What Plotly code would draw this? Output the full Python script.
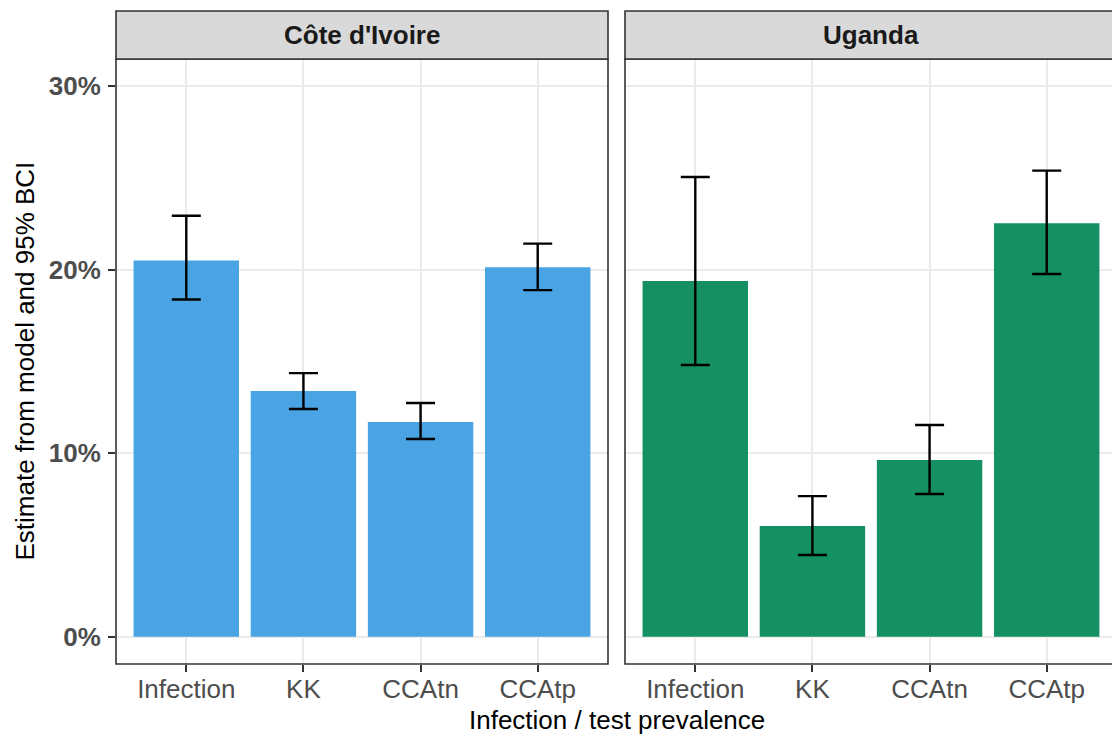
import plotly.graph_objects as go

categories = ["Infection", "KK", "CCAtn", "CCAtp"]
panels = ["Côte d'Ivoire", "Uganda"]

ci_est = [20.5, 13.38, 11.7, 20.12]
ci_low = [18.37, 12.4, 10.77, 18.88]
ci_high = [22.93, 14.36, 12.73, 21.41]

ug_est = [19.37, 6.03, 9.62, 22.52]
ug_low = [14.8, 4.45, 7.77, 19.76]
ug_high = [25.04, 7.66, 11.53, 25.39]

y_ticks = [0, 10, 20, 30]
y_tick_labels = ["0%", "10%", "20%", "30%"]

colors = ["#4AA4E3", "#159062"]

W, H = 1112, 734
FONT = "Liberation Sans, Arial, Helvetica, sans-serif"

def px_x(p):
    return p / W

def px_y(p):
    return 1 - p / H

left_x0, left_x1 = 116, 608
right_x0, right_x1 = 625, 1117
panel_top, panel_bot = 59, 664
strip_top = 11

fig = go.Figure()

for i, (est, lo, hi) in enumerate([(ci_est, ci_low, ci_high), (ug_est, ug_low, ug_high)]):
    fig.add_trace(go.Bar(
        x=categories, y=est,
        xaxis="x" if i == 0 else "x2",
        yaxis="y" if i == 0 else "y2",
        marker=dict(color=colors[i], line=dict(width=0)),
        width=0.9,
        error_y=dict(type="data", symmetric=False,
                     array=[h - e for h, e in zip(hi, est)],
                     arrayminus=[e - l for e, l in zip(est, lo)],
                     color="black", thickness=2.4, width=14.5),
        showlegend=False,
        hoverinfo="skip",
    ))

unit = (left_x1 - left_x0) / 4.2
right_max = -0.6 + (W - right_x0) / unit

yr = [-1.487, 31.47]
common_x = dict(type="category", showgrid=True, gridcolor="#EBEBEB", gridwidth=2,
                ticks="outside", ticklen=7, tickwidth=2, tickcolor="#333333",
                tickfont=dict(family=FONT, size=26, color="#4D4D4D"),
                ticklabelstandoff=-5,
                showline=False, zeroline=False)
fig.update_layout(
    width=W, height=H,
    margin=dict(l=0, r=0, t=0, b=0),
    paper_bgcolor="white", plot_bgcolor="white",
    bargap=0.1,
    xaxis=dict(common_x, domain=[px_x(left_x0), px_x(left_x1)], range=[-0.6, 3.6], anchor="y"),
    xaxis2=dict(common_x, domain=[px_x(right_x0), 1.0], range=[-0.6, right_max], anchor="y2"),
    yaxis=dict(domain=[px_y(panel_bot), px_y(panel_top)], range=yr,
               tickvals=y_ticks, ticktext=y_tick_labels,
               showgrid=True, gridcolor="#EBEBEB", gridwidth=2,
               ticks="outside", ticklen=7, tickwidth=2, tickcolor="#333333",
               tickfont=dict(family=FONT, size=26, color="#4D4D4D", weight="bold"),
               ticklabelstandoff=2,
               zeroline=False, showline=False, anchor="x"),
    yaxis2=dict(domain=[px_y(panel_bot), px_y(panel_top)], range=yr,
                tickvals=y_ticks, showticklabels=False,
                showgrid=True, gridcolor="#EBEBEB", gridwidth=2,
                ticks="", zeroline=False, showline=False, anchor="x2"),
)

border = dict(color="#333333", width=1.6)
shapes = []
shapes.append(dict(type="rect", xref="paper", yref="paper",
                   x0=px_x(left_x0), x1=px_x(left_x1), y0=px_y(panel_bot), y1=px_y(panel_top),
                   line=border, fillcolor="rgba(0,0,0,0)", layer="above"))
shapes.append(dict(type="rect", xref="paper", yref="paper",
                   x0=px_x(right_x0), x1=px_x(right_x1), y0=px_y(panel_bot), y1=px_y(panel_top),
                   line=border, fillcolor="rgba(0,0,0,0)", layer="above"))
for x0, x1 in [(left_x0, left_x1), (right_x0, right_x1)]:
    shapes.append(dict(type="rect", xref="paper", yref="paper",
                       x0=px_x(x0), x1=px_x(x1), y0=px_y(panel_top), y1=px_y(strip_top),
                       line=border, fillcolor="#D9D9D9", layer="above"))
fig.update_layout(shapes=shapes)

annotations = []
for name, (x0, x1) in zip(panels, [(left_x0, left_x1), (right_x0, right_x1)]):
    annotations.append(dict(text=name, xref="paper", yref="paper",
                            x=px_x((x0 + x1) / 2), y=px_y((strip_top + panel_top) / 2),
                            showarrow=False, xanchor="center", yanchor="middle",
                            font=dict(family=FONT, size=26, color="#1A1A1A", weight="bold")))
annotations.append(dict(text="Infection / test prevalence", xref="paper", yref="paper",
                        x=px_x((left_x0 + right_x1) / 2), y=px_y(720),
                        showarrow=False, xanchor="center", yanchor="middle",
                        font=dict(family=FONT, size=26, color="black")))
annotations.append(dict(text="Estimate from model and 95% BCI", xref="paper", yref="paper",
                        x=px_x(25), y=px_y((panel_top + panel_bot) / 2), textangle=-90,
                        showarrow=False, xanchor="center", yanchor="middle",
                        font=dict(family=FONT, size=26, color="black")))
fig.update_layout(annotations=annotations)

fig.write_html("out.html", config={"displayModeBar": False},
               post_script="document.body.style.margin='0';document.body.style.overflow='hidden';")
